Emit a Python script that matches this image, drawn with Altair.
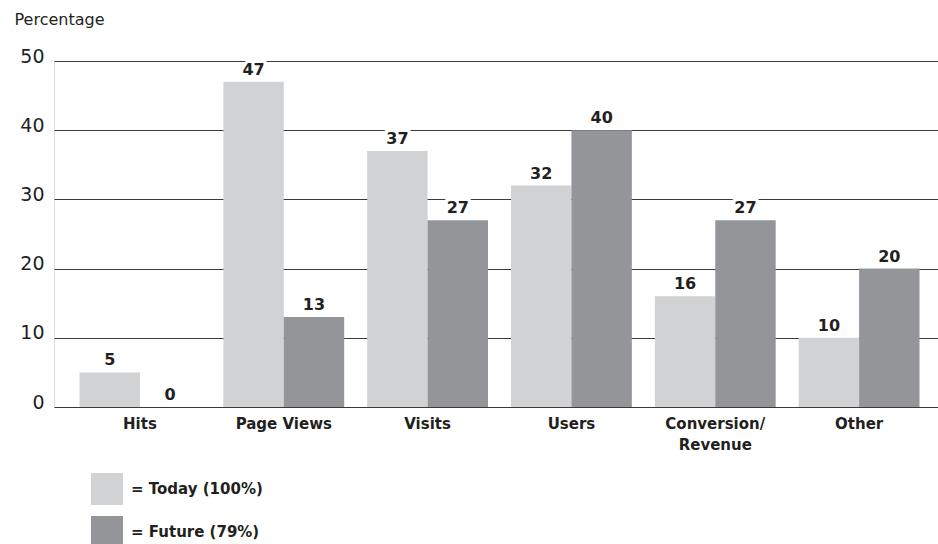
import altair as alt
import pandas as pd

categories = ["Hits", "Page Views", "Visits", "Users", "Conversion/Revenue", "Other"]
today = [5, 47, 37, 32, 16, 10]
future = [0, 13, 27, 40, 27, 20]
series_names = ["Today (100%)", "Future (79%)"]
colors = ["#d1d2d4", "#939598"]
y_ticks = [0, 10, 20, 30, 40, 50]

rows = []
for i, c in enumerate(categories):
    rows.append({"category": c, "series": series_names[0], "value": today[i]})
    rows.append({"category": c, "series": series_names[1], "value": future[i]})
df = pd.DataFrame(rows)

FONT = "DejaVu Sans"

x_enc = alt.X(
    "category:N",
    sort=categories,
    scale=alt.Scale(paddingInner=0.16, paddingOuter=0.153, align=0.58),
    axis=alt.Axis(
        title=None,
        domain=False,
        ticks=False,
        labelAngle=0,
        labelFont=FONT,
        labelFontWeight="bold",
        labelFontSize=15,
        labelColor="#231f20",
        labelPadding=9,
        labelLineHeight=21,
        labelExpr="datum.label == 'Conversion/Revenue' ? ['Conversion/', 'Revenue'] : datum.label",
    ),
)
xoff = alt.XOffset("series:N", sort=series_names, scale=alt.Scale(paddingInner=0, paddingOuter=0))

bars = alt.Chart(df).mark_bar(strokeWidth=0).encode(
    x=x_enc,
    xOffset=xoff,
    y=alt.Y(
        "value:Q",
        scale=alt.Scale(domain=[0, 50], nice=False),
        axis=alt.Axis(
            values=y_ticks,
            title="Percentage",
            titleAngle=0,
            titleX=-40,
            titleY=-37,
            titleAlign="left",
            titleBaseline="alphabetic",
            titleFont=FONT,
            titleFontWeight="normal",
            titleFontSize=16,
            titleColor="#231f20",
            domain=False,
            ticks=False,
            labelFont=FONT,
            labelFontSize=19,
            labelColor="#231f20",
            labelPadding=10,
            labelBaseline="alphabetic",
            labelOffset=1,
            grid=True,
            gridColor="#3a3a3a",
            gridWidth=1.2,
        ),
    ),
    color=alt.Color(
        "series:N",
        sort=series_names,
        scale=alt.Scale(domain=series_names, range=colors),
        legend=alt.Legend(
            title=None,
            orient="none",
            legendX=37,
            legendY=412,
            direction="vertical",
            padding=0,
            symbolType="square",
            symbolSize=1024,
            symbolStrokeWidth=0,
            symbolOpacity=1,
            rowPadding=11,
            labelOffset=8,
            labelFont=FONT,
            labelFontWeight="bold",
            labelFontSize=15,
            labelColor="#231f20",
            labelExpr="'= ' + datum.label",
        ),
    ),
)

halo = alt.Chart(df).mark_text(
    font=FONT, fontWeight="bold", fontSize=16, baseline="alphabetic", dy=-7,
    color="white", stroke="white", strokeWidth=6,
).encode(
    x=alt.X("category:N", sort=categories),
    xOffset=alt.XOffset("series:N", sort=series_names),
    y="value:Q",
    text="value:Q",
)

labels = alt.Chart(df).mark_text(
    font=FONT, fontWeight="bold", fontSize=16, baseline="alphabetic", dy=-7,
    color="#231f20",
).encode(
    x=alt.X("category:N", sort=categories),
    xOffset=alt.XOffset("series:N", sort=series_names),
    y="value:Q",
    text="value:Q",
)

chart = alt.layer(bars, halo, labels).properties(
    width=884,
    height=346,
    autosize=alt.AutoSizeParams(type="none"),
    padding={"left": 54, "top": 61, "right": 0, "bottom": 137},
).configure_view(stroke=None).configure(background="white")

chart.save("out.html", embed_options={"renderer": "svg", "actions": False})
